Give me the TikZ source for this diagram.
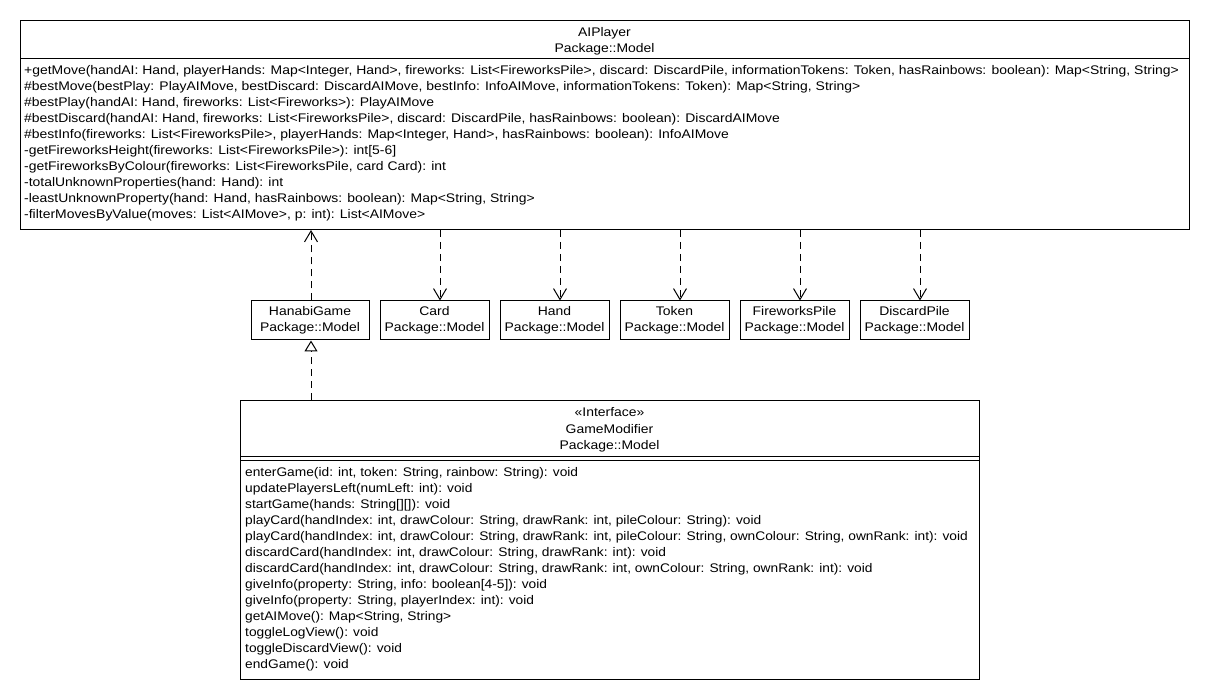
\documentclass[tikz,border=0pt]{standalone}
\usepackage{fontspec}
\setmainfont{Liberation Sans}[FakeStretch=1.115]
\newfontfamily\gmfont{Liberation Sans}[FakeStretch=1.10]
\usetikzlibrary{arrows.meta}
\begin{document}
\begin{tikzpicture}[x=1pt,y=-1pt,
  box/.style={draw, line width=1pt, inner sep=0pt, anchor=north west},
  smallbox/.style={draw, line width=1pt, inner sep=0pt, minimum height=39pt, align=center,
    font=\fontsize{12.5}{16}\selectfont},
  txt/.style={inner sep=0pt, font=\fontsize{12.5}{16}\selectfont},
  mline/.style={txt, anchor=base west},
  gline/.style={inner sep=0pt, anchor=base west, font=\gmfont\fontsize{12.5}{16}\selectfont},
  cline/.style={txt, anchor=base},
  sep/.style={line width=1pt},
  dep/.style={line width=1pt, dash pattern=on 7pt off 5pt, -{Straight Barb[length=11pt,width=13pt]}},
  real/.style={line width=1pt, dash pattern=on 7pt off 5pt, -{Triangle[open,length=11pt,width=13pt,fill=white]}}
]
\useasboundingbox[fill=white] (0,0) rectangle (1210,700);

% AIPlayer
\node[box, minimum width=1169pt, minimum height=209pt] (ai) at (20,20) {};
\draw[sep] ([yshift=-39pt]ai.north west) -- ([yshift=-39pt]ai.north east);
\node[cline] (ainame) at (604.5,37) {AIPlayer};
\node[cline] (aipkg) at (604.5,53) {Package::Model};
\foreach \t [count=\i] in {
 {+getMove(handAI: Hand, playerHands: Map<Integer, Hand>, fireworks: List<FireworksPile>, discard: DiscardPile, informationTokens: Token, hasRainbows: boolean): Map<String, String>},
 {\#bestMove(bestPlay: PlayAIMove, bestDiscard: DiscardAIMove, bestInfo: InfoAIMove, informationTokens: Token): Map<String, String>},
 {\#bestPlay(handAI: Hand, fireworks: List<Fireworks>): PlayAIMove},
 {\#bestDiscard(handAI: Hand, fireworks: List<FireworksPile>, discard: DiscardPile, hasRainbows: boolean): DiscardAIMove},
 {\#bestInfo(fireworks: List<FireworksPile>, playerHands: Map<Integer, Hand>, hasRainbows: boolean): InfoAIMove},
 {-getFireworksHeight(fireworks: List<FireworksPile>): int[5-6]},
 {-getFireworksByColour(fireworks: List<FireworksPile, card Card): int},
 {-totalUnknownProperties(hand: Hand): int},
 {-leastUnknownProperty(hand: Hand, hasRainbows: boolean): Map<String, String>},
 {-filterMovesByValue(moves: List<AIMove>, p: int): List<AIMove>}}
 \node[mline] (am\i) at (24,{75+16*(\i-1)}) {\t};

% middle row
\node[smallbox, minimum width=118pt] (hanabi) at (310,320.5) {HanabiGame\\Package::Model};
\node[smallbox, minimum width=109pt] (card) at (434.5,320.5) {Card\\Package::Model};
\node[smallbox, minimum width=109pt] (hand) at (554.5,320.5) {Hand\\Package::Model};
\node[smallbox, minimum width=109pt] (token) at (674.5,320.5) {Token\\Package::Model};
\node[smallbox, minimum width=109pt] (fpile) at (794.5,320.5) {FireworksPile\\Package::Model};
\node[smallbox, minimum width=109pt] (dpile) at (914.5,320.5) {DiscardPile\\Package::Model};

% GameModifier
\node[box, minimum width=739pt, minimum height=279pt] (gm) at (240,400) {};
\draw[sep] ([yshift=-56pt]gm.north west) -- ([yshift=-56pt]gm.north east);
\draw[sep] ([yshift=-60pt]gm.north west) -- ([yshift=-60pt]gm.north east);
\node[cline] (gmst) at (609.5,417) {«Interface»};
\node[cline] (gmname) at (609.5,433) {GameModifier};
\node[cline] (gmpkg) at (609.5,449) {Package::Model};
\foreach \t [count=\i] in {
 {enterGame(id: int, token: String, rainbow: String): void},
 {updatePlayersLeft(numLeft: int): void},
 {startGame(hands: String[][]): void},
 {playCard(handIndex: int, drawColour: String, drawRank: int, pileColour: String): void},
 {playCard(handIndex: int, drawColour: String, drawRank: int, pileColour: String, ownColour: String, ownRank: int): void},
 {discardCard(handIndex: int, drawColour: String, drawRank: int): void},
 {discardCard(handIndex: int, drawColour: String, drawRank: int, ownColour: String, ownRank: int): void},
 {giveInfo(property: String, info: boolean[4-5]): void},
 {giveInfo(property: String, playerIndex: int): void},
 {getAIMove(): Map<String, String>},
 {toggleLogView(): void},
 {toggleDiscardView(): void},
 {endGame(): void}}
 \node[gline] (gm\i) at (245,{476+16*(\i-1)}) {\t};

% connectors
\draw[dep] ([xshift=1pt]hanabi.north) -- ([xshift=1pt]hanabi.north |- ai.south);
\draw[dep] ([xshift=5.5pt]card.north |- ai.south) -- ([xshift=5.5pt]card.north);
\draw[dep] ([xshift=5.5pt]hand.north |- ai.south) -- ([xshift=5.5pt]hand.north);
\draw[dep] ([xshift=5.5pt]token.north |- ai.south) -- ([xshift=5.5pt]token.north);
\draw[dep] ([xshift=5.5pt]fpile.north |- ai.south) -- ([xshift=5.5pt]fpile.north);
\draw[dep] ([xshift=5.5pt]dpile.north |- ai.south) -- ([xshift=5.5pt]dpile.north);
\draw[real] ([xshift=1pt]hanabi.south |- gm.north) -- ([xshift=1pt]hanabi.south);
\end{tikzpicture}
\end{document}
